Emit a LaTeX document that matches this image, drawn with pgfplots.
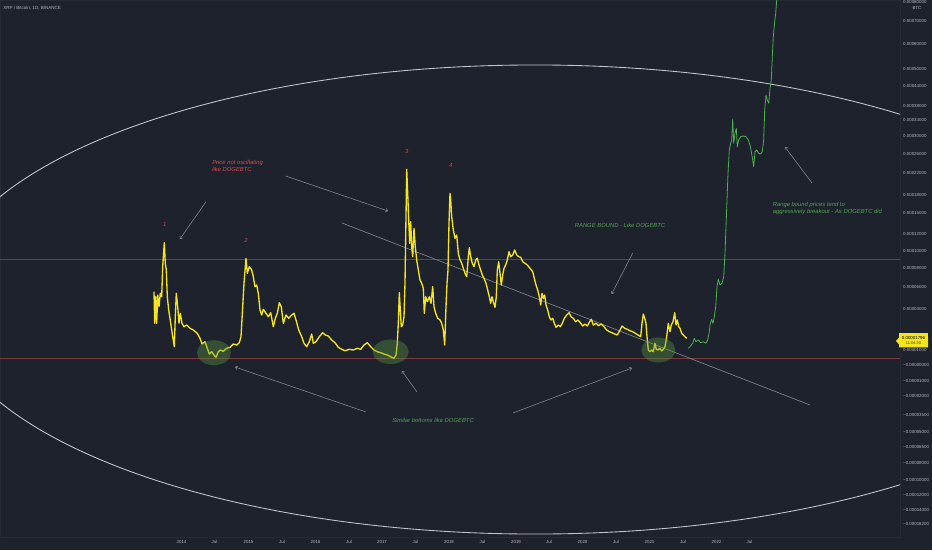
\documentclass[border=0pt]{standalone}
\usepackage{fontspec}
\setmainfont{Liberation Sans}
\usepackage{pgfplots}
\pgfplotsset{compat=1.18}
\usetikzlibrary{arrows.meta}

\definecolor{bgc}{HTML}{1E222D}
\definecolor{tick}{HTML}{B2B5BE}
\definecolor{frame}{HTML}{262A35}
\definecolor{price}{HTML}{F5E51F}
\definecolor{proj}{HTML}{4CAF50}
\definecolor{note}{HTML}{52A352}
\definecolor{warn}{HTML}{DE4A4A}
\definecolor{level}{HTML}{7A3A40}
\definecolor{arrowc}{HTML}{80838C}
\definecolor{blob}{HTML}{5A9A40}
\definecolor{ring}{HTML}{C4C6CC}

\newcommand{\tk}{\fontsize{3.3pt}{3.8pt}\selectfont}
\newcommand{\nt}{\fontsize{4.4pt}{5.2pt}\selectfont\itshape}

\begin{document}
\begin{tikzpicture}[x=0.75pt,y=0.75pt]
\useasboundingbox (0,0) rectangle (932,550);
\fill[bgc] (0,0) rectangle (932,550);

\begin{axis}[
    at={(0pt,9.75pt)}, anchor=south west,
    scale only axis,
    width=675pt, height=402.75pt,
    xmin=0, xmax=900,
    ymin=0, ymax=537,
    y dir=reverse,
    axis line style={draw=frame, line width=0.5pt},
    major tick length=0pt,
    xtick={181.5,214.5,248.5,282,315.5,349,382,415.5,449,482.5,516,549,582.5,616,649.5,683,716.5,749.5},
    xticklabels={2014,Jul,2015,Jul,2016,Jul,2017,Jul,2018,Jul,2019,Jul,2020,Jul,2021,Jul,2022,Jul},
    xticklabel style={font=\tk, text=tick, anchor=north, inner sep=0pt, yshift=-2.6pt},
    ytick={1.5,20.5,43.5,68.5,86,105.5,120,136,153.5,173,194.5,213,234,250.5,267.5,287,309,349.5,365,381,396,415,432,447,462.5,480,495,510,524},
    yticklabels={0.00080000,0.00070000,0.00060000,0.00050000,0.00044000,0.00038000,0.00034000,0.00030000,0.00026000,0.00022000,0.00018000,0.00015000,0.00012000,0.00010000,0.00008000,0.00006000,0.00004000,0.00001000,−0.00000000,−0.00001000,−0.00002000,−0.00003500,−0.00005000,−0.00006500,−0.00008000,−0.00010000,−0.00012000,−0.00014000,−0.00016200},
    yticklabel pos=right,
    yticklabel style={font=\tk, text=tick, anchor=west, inner sep=0pt, xshift=2.2pt},
]

% support / resistance levels
\draw[level, line width=0.6pt] (axis cs:0,259.4) -- (axis cs:900,259.4);
\draw[level, line width=0.6pt] (axis cs:0,358) -- (axis cs:900,358);

% range ellipse and trend line
\draw[ring, line width=0.65pt] (axis cs:535,299.5) ellipse [x radius=446.25pt, y radius=175.9pt];
\draw[arrowc, line width=0.5pt] (axis cs:342,223) -- (axis cs:810,405);

% XRP/BTC daily close
\addplot[price, line width=1pt, line join=round] coordinates {
(154.0,291.7) (154.7,323.3) (155.7,296.7) (156.7,323.3) (157.7,295) (159,306.7)
(160.3,293.3) (161.7,296.7) (162.7,266.7) (164.3,242.7) (165.3,263.3) (166.3,270)
(167.3,296.7) (168.7,310) (170.7,323.3) (172.7,336.7) (174.3,346.7) (175.3,316.7)
(176.3,293.3) (177.7,306.7) (179,323.3) (180.3,313.3) (182,323.3) (184,326.7)
(186.7,325) (190,328.3) (193.3,330) (197.3,333.3) (200,338.3) (202,344)
(205,341.7) (207.3,348.3) (209.3,354) (211.7,351.7) (214,355) (216,357.3)
(218.3,351.7) (220.7,350) (223.3,351.3) (226.7,348.3) (230,347.3) (233.3,344)
(236.7,345) (239.3,342.7) (241,336.7) (242.7,306.7) (244,283.3) (246,258.3)
(247.3,273.3) (249.3,266.7) (251.7,270) (253.3,276.7) (255,286.7) (256.7,285)
(258.3,293.3) (260,310) (261.7,315) (263.3,309.3) (266,313.3) (268.3,316.7)
(270.7,312.7) (273.3,326.7) (275.3,318.3) (277.3,313.3) (279.3,302.7) (281.3,306.7)
(283.3,323.3) (286,315) (288.7,318.3) (291.7,315) (294,313.3) (296,320)
(298.7,330) (301.7,336.7) (304,343.3) (306.7,346.7) (309.3,341.7) (311.7,334)
(313.3,343.3) (316,341.7) (319.3,336.7) (322.7,332.7) (325.3,335) (328.3,336)
(331.7,340) (335,342.7) (338.3,347.3) (341.7,349.3) (345,350.7) (349.3,349.3)
(353.3,350) (357.3,348.3) (360.7,349.3) (364,345) (367.3,342.7) (370.7,346.7)
(374,350) (377.3,351.7) (380.7,352.7) (384,354) (387.3,355) (390.7,356.7)
(394,358.3) (396,355) (397.3,343.3) (398.3,323.3) (399.3,292.7) (400.3,310)
(401.3,326.7) (402.7,325) (404,316.7) (405,283.3) (405.7,236.7) (406.7,169.3)
(407.7,193.3) (408.7,220) (409.7,243.3) (410.7,221.7) (411.7,246.7) (412.7,256.7)
(414,228.3) (415.3,246.7) (416.7,260) (418.3,270) (420,280) (421.7,283.3)
(423.3,288.3) (424.3,313.3) (425.7,296.7) (427.3,301.7) (429.3,296.7) (431,303.3)
(432.7,286.7) (434,306.7) (435.7,313.3) (437.7,318.3) (440,320) (441.7,323.3)
(443.3,330) (444.7,345) (446,306.7) (447,283.3) (448,270) (449,223.3)
(450,193.3) (450.7,200) (451.7,216.7) (453.3,230) (455,238.3) (456.7,235)
(458.3,253.3) (460,260) (461.7,263.3) (463.3,268.3) (465,273.3) (466.7,276.7)
(468.3,256.7) (469.3,247.7) (470.7,256.7) (472.3,263.3) (474,266.7) (475.7,260)
(477.3,258.3) (479,265) (480.7,270) (482.3,275) (484,278.3) (486,283.3)
(487.7,290) (489.3,296.7) (490.7,303.3) (492,296.7) (493.3,301.7) (495,307.3)
(496.3,296.7) (497.3,270) (498.7,261.7) (500,273.3) (501.3,285) (502.7,275)
(504,268.3) (505.7,265) (507.3,260) (509,251.7) (510.7,256.7) (512.7,255)
(514.7,250) (516.7,255) (518.7,256.7) (520.7,257.3) (522.7,261.7) (525,263.3)
(527.3,265) (530,268.3) (532.7,271.7) (534.3,278.3) (536,285) (537.7,290)
(539.3,296.7) (540.7,305) (542,293.3) (543.3,298.3) (544.7,295) (546,305)
(547.7,310) (549.3,316.7) (551,320) (552.7,318.3) (554.3,323.3) (556,327.3)
(558.3,325) (560.3,326.7) (562.3,323.3) (564.3,318.3) (566.7,315) (569,312.7)
(571,316.7) (573.3,318.3) (575.7,321.7) (578,320) (580.3,322.7) (582.7,326)
(585,324) (587.3,326) (589.7,321.7) (591.3,319.3) (593.3,325) (596,323.3)
(598.7,325.7) (601.3,324) (604,326.7) (606.7,330) (609.3,331.7) (612,332.7)
(614.7,334) (617.3,335) (620,330) (622,326) (624.7,328.3) (627.3,329.3)
(630,330.7) (632.7,331.7) (635.3,333.3) (638,335) (640.7,336.7) (642,323.3)
(643.3,314) (644.7,318.3) (646,323.3) (647,336.7) (648.3,350) (650,351.7)
(651.7,350) (653.3,351.7) (655,343.3) (656.3,349.3) (658,350) (660,348.3)
(661.7,351) (663.3,349.3) (665,346.7) (666.7,336.7) (668.3,323.3) (670,331.7)
(671.3,325) (673,321.7) (674.7,312.7) (676,325) (677.3,320) (678.7,326.7)
(680,328.3) (681.7,333.3) (683.3,335) (685,336.7) (686.7,338.3)
};

% projected path
\addplot[proj, line width=0.6pt, line join=round] coordinates {
(688.3,348.3) (690,346.7) (692.7,343.3) (694.3,338.3) (696,341.7) (698.3,340)
(700.7,342.7) (703.3,341.7) (706,343.3) (707.7,340) (709,333.3) (710.3,323.3)
(711.7,319.3) (713,323.3) (714.3,316.7) (715.7,306.7) (717,286.7) (718.3,279.3)
(720,285) (722,283.3) (723.7,276.7) (725,253.3) (726,226.7) (727,200)
(728,173.3) (729.3,150) (730.7,143.3) (731.7,140) (732.7,119.3) (733.7,143.3)
(735,133.3) (736.3,128.3) (737.3,146.7) (738.7,140) (740.7,136.7) (743.3,136)
(746,136.7) (748.3,140) (750,145) (751.3,151.7) (752.7,160) (753.7,166.7)
(755,151.7) (756.7,150) (758.7,153.3) (760.7,154) (762.3,151.7) (763.7,140)
(764.7,110) (766,95) (767.3,100) (768.7,103.3) (770,88.3) (771.3,80)
(772.3,56.7) (773.3,36.7) (774.7,21.7) (775.7,13.3) (776.7,0) (778,-10)
};

% bottoms
\fill[blob, opacity=0.38] (axis cs:214,352.7) ellipse [x radius=12.75pt, y radius=9.4pt];
\fill[blob, opacity=0.38] (axis cs:390.7,351.7) ellipse [x radius=13.5pt, y radius=9.2pt];
\fill[blob, opacity=0.38] (axis cs:658.3,350) ellipse [x radius=12.75pt, y radius=9.4pt];

% arrows
\begin{scope}[arrowc, line width=0.45pt, -{To[length=2pt,width=3pt]}]
\draw (axis cs:206,201.7) -- (axis cs:180,239);
\draw (axis cs:285.7,176) -- (axis cs:388,211);
\draw (axis cs:366,412) -- (axis cs:235,367);
\draw (axis cs:417,392) -- (axis cs:402,371);
\draw (axis cs:513,413) -- (axis cs:632,368);
\draw (axis cs:632.7,253) -- (axis cs:611.7,294);
\draw (axis cs:812,183) -- (axis cs:785,147);
\end{scope}

% notes
\node[warn, font=\nt, anchor=north west, align=left, inner sep=0pt] at (axis cs:212,160) {Price not oscillating\\like DOGEBTC};
\node[warn, font=\nt] at (axis cs:164.7,224) {1};
\node[warn, font=\nt] at (axis cs:246,240.7) {2};
\node[warn, font=\nt] at (axis cs:406.7,151.7) {3};
\node[warn, font=\nt] at (axis cs:450.7,165.7) {4};
\node[note, font=\nt] at (axis cs:620,225) {RANGE BOUND - Like DOGEBTC};
\node[note, font=\nt, anchor=north west, align=left, inner sep=0pt] at (axis cs:772.5,202) {Range bound prices tend to\\aggressively breakout - As DOGEBTC did};
\node[note, font=\nt] at (axis cs:433,420) {Similar bottoms like DOGEBTC};
\end{axis}

% header, scale unit and last price tag
\node[tick, font=\fontsize{3.4pt}{4pt}\selectfont, anchor=west, inner sep=0pt] at (3,542) {XRP / Bitcoin, 1D, BINANCE};
\node[tick, font=\tk, inner sep=0pt] at (917,542.5) {BTC};
\fill[price] (896,209) -- (899,212.5) -- (928,212.5) -- (928,202.5) -- (899,202.5) -- (899,205.5) -- cycle;
\fill[price] (899,202.5) rectangle (928,216.5);
\node[black, font=\tk, inner sep=0pt] at (913.5,212.5) {0.00001796};
\node[black!70!price, font=\fontsize{3pt}{3.5pt}\selectfont, inner sep=0pt] at (913.5,206.5) {11:04:20};
\end{tikzpicture}
\end{document}
